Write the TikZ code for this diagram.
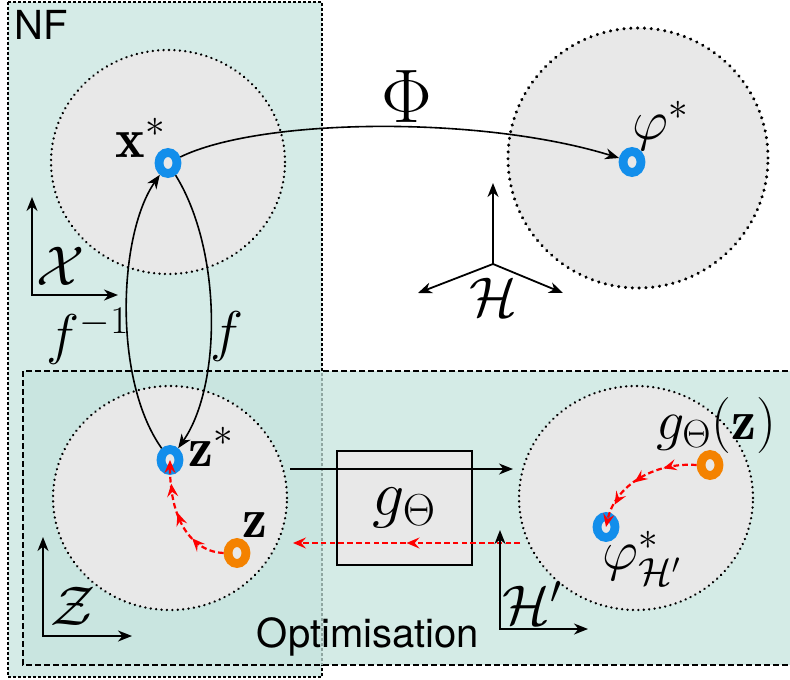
\RequirePackage{fix-cm}
\documentclass[tikz,border=0pt]{standalone}
\usepackage{amsmath,amssymb}
\usepackage{fontspec}
\newfontfamily\helv{TeX Gyre Heros}
\usetikzlibrary{calc,shapes.geometric,arrows.meta,decorations.markings}
\definecolor{nfteal}{RGB}{213,235,231}
\definecolor{optteal}{RGB}{197,228,222}
\definecolor{spacegrey}{RGB}{232,232,232}
\definecolor{ptblue}{RGB}{18,142,235}
\definecolor{ptorange}{RGB}{244,130,0}

\begin{document}
\begin{tikzpicture}[x=0.5pt,y=-0.5pt,
    space/.style={ellipse, draw, fill=spacegrey, line width=1.3pt, line cap=round,
        dash pattern=on 0.01pt off 2.7pt, inner sep=0pt,
        minimum width=117pt, minimum height=112pt},
    ring/.style={ellipse, draw, line width=4.4pt, inner sep=0pt,
        minimum width=9pt, minimum height=10.5pt},
    lab/.style={inner sep=0pt, font=\fontsize{28}{32}\selectfont},
    word/.style={inner sep=0pt, font=\helv\fontsize{20}{24}\selectfont},
    arr/.style={line width=0.8pt, -{Stealth[length=7pt,width=5.5pt,inset=2.2pt]}},
    axarr/.style={line width=0.9pt, -{Stealth[length=7pt,width=5.5pt,inset=2.2pt]}},
    axes/.style={line width=0.9pt, {Stealth[length=7pt,width=5.5pt,inset=2.2pt]}-{Stealth[length=7pt,width=5.5pt,inset=2.2pt]}},
    redpath/.style={red, line width=1.1pt, dash pattern=on 2.8pt off 1.6pt,
        -{Stealth[length=6.5pt,width=5.5pt,inset=2.4pt]},
        postaction={decorate}},
]
        %
        \clip (0,0) rectangle (790,679);
        \fill[white] (0,0) rectangle (790,679);

        %
        \draw[fill=nfteal, line width=0.7pt, dash pattern=on 1.5pt off 1pt] (8,2) rectangle (322,677);
        \draw[fill=optteal, fill opacity=0.73, line width=0.8pt, dash pattern=on 3pt off 1.5pt] (23,371) rectangle (800,665);
        \node[word] (nf) at (41,25) {NF};
        \node[word] (opt) at (368,637) {Optimisation};

        %
        \node[space] (Xsp) at (168,162) {};
        \node[space] (Zsp) at (170,498) {};
        \node[space] (Hpsp) at (636,498) {};
        \node[space, line width=1.7pt, dash pattern=on 0.01pt off 3.4pt,
              minimum width=130pt, minimum height=130pt] (Hsp) at (638,158) {};

        %
        \node[ring, ptblue] (xs) at (168,163) {};
        \node[ring, ptblue] (ps) at (632,162) {};
        \node[ring, ptblue] (zs) at (170,460) {};
        \node[ring, ptorange] (zo) at (237,553) {};
        \node[ring, ptorange] (go) at (710,465) {};
        \node[ring, ptblue] (phs) at (606,527) {};

        \node[lab] (xsl) at (141,138) {$\mathbf{x}^*$};
        \node[lab] (psl) at (661,126) {$\varphi^*$};
        \node[lab] (zsl) at (211,447) {$\mathbf{z}^*$};
        \node[lab] (zl) at (255,525) {$\mathbf{z}$};
        \node[lab] (gl) at (716,425) {$g_\Theta(\mathbf{z})$};
        \node[lab] (phl) at (642,558) {$\varphi^*_{\mathcal{H}'}$};

        %
        \draw[arr] (xs) .. controls (260,118) and (480,115) .. (ps);
        \node[font=\fontsize{38}{42}\selectfont, inner sep=0pt] (phil) at (407,97) {$\Phi$};
        \draw[arr] (zs) .. controls (113,380) and (118,235) .. (xs);
        \draw[arr] (xs) .. controls (222,250) and (222,385) .. (zs);
        \node[lab] (finv) at (88,336) {$f^{-1}$};
        \node[lab] (fl) at (227,336) {$f$};

        %
        \node[draw, fill=spacegrey, line width=0.9pt, minimum width=67.5pt, minimum height=57pt,
              font=\fontsize{32}{36}\selectfont] (gbox) at (404.5,508) {$g_\Theta$};
        \coordinate (gin) at (290,469);
        \coordinate (gout) at (513,469);
        \coordinate (bin) at (520,543);
        \coordinate (bout) at (293,543);
        \draw[arr] (gin) -- (gout);
        \draw[redpath, decoration={markings,
              mark=at position 0.5 with {\arrow{Stealth[length=6.5pt,width=5.5pt,inset=2.4pt]}}}]
            (bin) -- (bout);

        %
        \draw[redpath, decoration={markings,
              mark=at position 0.3 with {\arrow{Stealth[length=6.5pt,width=5.5pt,inset=2.4pt]}},
              mark=at position 0.55 with {\arrow{Stealth[length=6.5pt,width=5.5pt,inset=2.4pt]}},
              mark=at position 0.8 with {\arrow{Stealth[length=6.5pt,width=5.5pt,inset=2.4pt]}}}]
            (zo.west) .. controls (195,552) and (170,525) .. (zs.center);
        \draw[redpath, decoration={markings,
              mark=at position 0.28 with {\arrow{Stealth[length=6.5pt,width=5.5pt,inset=2.4pt]}},
              mark=at position 0.55 with {\arrow{Stealth[length=6.5pt,width=5.5pt,inset=2.4pt]}},
              mark=at position 0.8 with {\arrow{Stealth[length=6.5pt,width=5.5pt,inset=2.4pt]}}}]
            (go.west) .. controls (655,462) and (615,485) .. (phs.center);

        %
        \draw[axes] (32,197) |- (118,295);
        \node[lab] (Xl) at (61,266) {$\mathcal{X}$};
        \draw[axes] (43,537) |- (132,636);
        \node[lab] (Zl) at (73,606) {$\mathcal{Z}$};
        \draw[axes] (500,530) |- (588,629);
        \node[lab] (Hpl) at (532,603) {$\mathcal{H}'$};

        \coordinate (Ho) at (493,264);
        \draw[axarr] (Ho) -- ++(0,-81);
        \draw[axarr] (Ho) -- ++(-75,29);
        \draw[axarr] (Ho) -- ++(70,29);
        \node[lab] (Hl) at (493,297) {$\mathcal{H}$};
    \end{tikzpicture}
\end{document}
